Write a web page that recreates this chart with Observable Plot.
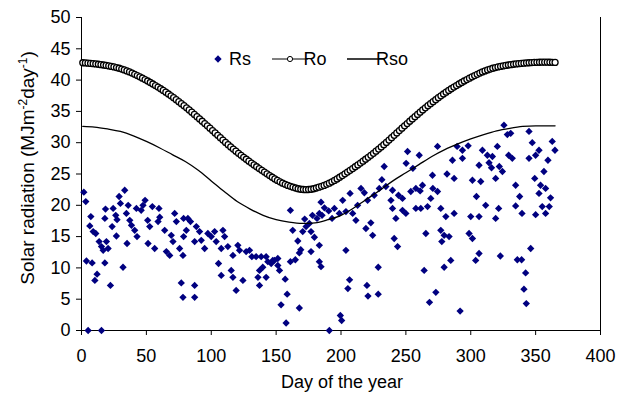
<!DOCTYPE html>
<html><head><meta charset="utf-8">
<script src="https://cdn.jsdelivr.net/npm/d3@7"></script>
<script src="https://cdn.jsdelivr.net/npm/@observablehq/plot@0.6"></script>
<style>html,body{margin:0;padding:0;background:#fff} svg{display:block}</style>
</head><body><div id="chart"></div>
<script>
const xTicks = [0, 50, 100, 150, 200, 250, 300, 350, 400];
const yTicks = [0, 5, 10, 15, 20, 25, 30, 35, 40, 45, 50];

// Ro: extraterrestrial radiation, read every second day (days 1,3,...,365)
const roDays = d3.range(1, 366, 2);
const roValues = [
  42.77, 42.74, 42.71, 42.67, 42.63, 42.58, 42.53, 42.47, 42.41, 42.34,
  42.27, 42.19, 42.10, 42.00, 41.89, 41.76, 41.62, 41.47, 41.30, 41.12,
  40.93, 40.73, 40.52, 40.31, 40.09, 39.86, 39.62, 39.38, 39.13, 38.88,
  38.62, 38.35, 38.07, 37.78, 37.49, 37.19, 36.88, 36.56, 36.24, 35.91,
  35.57, 35.23, 34.88, 34.52, 34.16, 33.80, 33.43, 33.06, 32.69, 32.32,
  31.94, 31.56, 31.18, 30.80, 30.42, 30.05, 29.69, 29.33, 28.98, 28.64,
  28.31, 27.99, 27.67, 27.36, 27.05, 26.75, 26.45, 26.16, 25.87, 25.58,
  25.30, 25.02, 24.75, 24.48, 24.22, 23.98, 23.75, 23.54, 23.35, 23.18,
  23.03, 22.90, 22.76, 22.64, 22.56, 22.52, 22.50,
  22.52, 22.56, 22.64, 22.76, 22.90, 23.03, 23.18, 23.35, 23.54, 23.75,
  23.98, 24.22, 24.48, 24.75, 25.02, 25.30, 25.58, 25.87, 26.16, 26.45,
  26.75, 27.05, 27.36, 27.67, 27.99, 28.31, 28.64, 28.98, 29.33, 29.69,
  30.05, 30.42, 30.80, 31.18, 31.56, 31.94, 32.32, 32.69, 33.06, 33.43,
  33.80, 34.16, 34.52, 34.88, 35.23, 35.57, 35.91, 36.24, 36.56, 36.88,
  37.19, 37.49, 37.78, 38.07, 38.35, 38.62, 38.88, 39.13, 39.38, 39.62,
  39.86, 40.09, 40.31, 40.52, 40.73, 40.93, 41.12, 41.30, 41.47, 41.62,
  41.76, 41.89, 42.00, 42.10, 42.19, 42.27, 42.34, 42.41, 42.47, 42.53,
  42.58, 42.63, 42.67, 42.71, 42.74, 42.77, 42.80, 42.82, 42.84, 42.85,
  42.86, 42.86, 42.86, 42.85, 42.84, 42.83
];

// Rso: clear-sky radiation
const rsoDays = [1, 10, 20, 30, 40, 50, 60, 70, 80, 90, 100, 110, 120, 130, 140, 150, 160, 170, 180, 190, 200, 210, 220, 230, 240, 250, 260, 270, 280, 290, 300, 310, 320, 330, 340, 350, 365];
const rsoValues = [32.6, 32.5, 32.2, 31.8, 31.1, 30.2, 29.2, 28.1, 27.0, 25.6, 23.9, 22.2, 20.6, 19.4, 18.4, 17.7, 17.3, 17.1, 17.2, 17.7, 18.4, 19.6, 21.0, 22.4, 23.9, 25.2, 26.5, 27.8, 28.9, 29.8, 30.6, 31.3, 31.9, 32.3, 32.6, 32.7, 32.7];

// Rs: measured daily solar radiation [day, value]
const rs = [
  [1.8,22.1],[3.3,20.6],[3.8,11.1],[5.1,0],[6.4,16.7],[7.2,18.2],[8.2,10.8],[9,15.8],[10.3,8.0],[11,15.5],
  [12,9.0],[13.6,14.2],[15.4,13.4],[15.4,0],[16.7,12.8],[18,17.9],[18,10.8],[18.5,19.4],[19.2,14.2],[20.5,13.1],
  [22.3,7.2],[23.6,16.6],[24.4,19.5],[26.4,18.4],[26.9,15.1],[27.4,17.7],[29,21.4],[30,20.3],[32,10.1],[33.3,22.4],
  [34.6,18.7],[35.1,13.9],[36,20.0],[37.2,17.6],[38.5,16.8],[41,16.0],[42.3,19.5],[42.8,15.0],[46,19.2],[47.4,20.0],
  [49,20.8],[51,17.6],[51.3,13.9],[52.6,16.6],[54.6,19.8],[56.4,13.1],[59,17.4],[59.7,19.5],[60.3,18.1],[64.1,16.0],
  [65.4,12.6],[68,12.0],[69.2,15.2],[70.5,14.2],[71.8,18.7],[73.1,17.4],[75.6,13.1],[76.9,7.6],[78.2,12.0],[78.2,5.3],
  [78.7,17.9],[78.7,15.0],
  [80.8,16.0],[82,17.9],[84,17.4],[87.2,14.2],[87.2,7.2],[87.2,5.3],[88.5,16.6],[91,15.8],[92.3,14.4],[94.9,13.1],
  [97.4,15.5],[100,15.0],[102.6,15.8],[103.8,14.2],[105.6,10.7],[107.7,13.1],[107.7,8.8],[109,16.0],[110.3,15.0],[112.8,13.4],
  [115.4,9.6],[116.7,12.0],[116.7,8.5],[119.2,6.4],[120.5,13.6],[121.8,12.8],[124.4,8.0],[126.9,12.6],[129.5,12.8],[131.3,11.8],
  [134.6,11.8],[136,8.5],[137.2,9.6],[137.2,7.2],[138.5,11.8],[139.7,10.1],[142.3,11.8],[142.3,8.5],[143.6,11.0],[146.2,10.7],
  [147.4,11.2],[148.7,11.2],[151.3,11.5],[151.3,10.4],[152.6,9.6],[153.8,4.1],[157,8.2],[157.7,1.2],[158.5,5.8],
  [161,19.2],[161,11.0],[162.8,16.0],[164.8,11.3],[166.7,14.3],[167.9,12.4],[169,12.9],[167.9,3.6],[170.5,15.8],[172,17.8],
  [173.1,16.6],[175.6,17.1],[176.9,15.8],[176.9,12.6],[178,18.4],[179.5,14.9],[181.5,17.9],[183.3,18.7],[183.3,13.6],[183.3,11.0],
  [184.6,10.2],[184.6,20.5],[185.4,18.4],[187.2,19.6],[190.5,19.1],[191,0],[193.1,17.9],[194.9,19.5],[198.7,18.7],[199.5,2.4],
  [200.5,1.6],[201.3,20.8],[203.8,19.0],[203.8,12.8],[206.6,8.1],[205.3,6.7],[207,21.9],[209,18.7],[211.5,17.6],[212.8,20.0],
  [215.4,22.7],[218,22.0],[219.2,16.3],[220,7.2],[220.8,5.5],[220.5,20.8],[223,17.2],[224.4,15.2],[225.6,21.6],[228.7,10.1],
  [228.7,5.8],[229.5,22.7],[231.5,24.1],[233.3,26.2],[234.6,23.0],[238.5,20.8],[239.7,19.5],[241,14.7],[239.7,22.4],[242.3,17.9],
  [243.6,13.4],[244.3,21.6],[247.4,21.1],[247.4,19.2],[250,18.7],[250.2,26.7],[251.3,28.6],[253.8,22.2],[255.4,25.9],[257.7,22.7],
  [257.7,19.5],[260.3,28.0],[261,22.3],[262.8,23.2],[261.5,19.5],[264.1,9.6],[265.4,15.5],[266.7,19.8],[268.2,4.5],[269.2,21.1],
  [270.5,24.8],[270.8,22.7],[273.1,6.1],[274.4,29.4],[274.4,22.2],[276.9,19.5],[276.9,16.0],[277.7,14.2],[279.5,15.2],[279.5,10.1],
  [280.8,18.2],[281.7,25.0],[283.3,15.0],[284.6,11.2],[285.9,27.2],[287.2,24.3],[287.2,18.7],[289.5,29.4],[291.8,3.1],[293.6,28.8],
  [293.6,27.5],[298,29.5],[298.7,15.5],[300,18.2],[301.3,24.0],[301.3,14.7],[303.8,11.2],[304.4,21.4],[306.4,26.4],[306.4,18.2],
  [306.4,12.3],[307.7,23.8],[309,28.8],[311.5,20.0],[312.8,28.0],[314.1,26.8],[316,26.0],[316.7,27.8],[319.2,24.3],[319.2,17.9],
  [320.5,29.4],[321.5,19.5],[322.8,11.9],[322,26.2],[324.4,25.4],[325.6,32.8],[328.2,31.3],[330.8,31.5],[329.2,28.0],[332,27.5],
  [334.6,23.2],[334.6,19.9],[335.9,11.3],[339.2,11.3],[337.7,21.4],[339.5,18.7],[341,6.6],[342.3,9.2],[342.8,4.3],[344.9,31.8],
  [344.9,27.5],[346.2,13.1],[347.4,30.0],[349.3,24.3],[350,28.0],[352.6,28.8],[350,18.5],[352.6,21.9],[353.8,23.2],[355.1,19.8],
  [356.4,25.4],[357.7,22.7],[357.7,18.7],[359.5,27.2],[360.5,19.8],[361.5,21.2],[362.8,30.2],[364.9,28.8]
];

const roData = roDays.map((d, i) => ({day: d, value: roValues[i]}));
const rsoData = rsoDays.map((d, i) => ({day: d, value: rsoValues[i]}));
const rsData = rs.map(([d, v]) => ({day: d, value: v}));

const FONT = "Arial, 'Liberation Sans', sans-serif";
const NAVY = "#000080";

const chart = Plot.plot({
  width: 629, height: 408,
  marginLeft: 81, marginRight: 29, marginTop: 17, marginBottom: 78,
  style: {fontFamily: FONT, fontSize: "18px", color: "#000", background: "#fff", overflow: "visible"},
  x: {domain: [0, 400], label: null},
  y: {domain: [0, 50], label: null},
  marks: [
    Plot.axisX({ticks: xTicks, tickSize: 5, tickPadding: 14, label: null, fontSize: 18, stroke: "#000"}),
    Plot.axisY({ticks: yTicks, tickSize: 5, tickPadding: 6, label: null, fontSize: 18, stroke: "#000"}),
    Plot.ruleX([0], {stroke: "#000"}),
    Plot.ruleY([0], {stroke: "#000"}),
    Plot.ruleX([400], {stroke: "#000"}),
    Plot.dot(rsData, {x: "day", y: "value", symbol: "diamond2", r: 3.3, fill: NAVY, stroke: "none"}),
    Plot.line(roData, {x: "day", y: "value", stroke: "#000", strokeWidth: 1}),
    Plot.dot(roData, {x: "day", y: "value", r: 3, fill: "#fff", stroke: "#000", strokeWidth: 1.3}),
    Plot.line(rsoData, {x: "day", y: "value", stroke: "#000", strokeWidth: 1.3, curve: "monotone-x"})
  ]
});

document.getElementById("chart").appendChild(chart);
const svg = d3.select(chart);

// x axis title
svg.append("text").attr("x", 342).attr("y", 388).attr("text-anchor", "middle")
  .attr("font-family", FONT).attr("font-size", 18).attr("fill", "#000").text("Day of the year");

// y axis title with superscripts
const yl = svg.append("text").attr("transform", "translate(34,168) rotate(-90)")
  .attr("text-anchor", "middle").attr("font-family", FONT).attr("font-size", 19).attr("fill", "#000");
yl.append("tspan").text("Solar radiation (MJm");
yl.append("tspan").attr("dy", -7).attr("font-size", 12).text("-2");
yl.append("tspan").attr("dy", 7).text("day");
yl.append("tspan").attr("dy", -7).attr("font-size", 12).text("-1");
yl.append("tspan").attr("dy", 7).text(")");

// legend
const ly = 59;
const lg = svg.append("g").attr("font-family", FONT).attr("font-size", 18).attr("fill", "#000");
lg.append("path").attr("d", d3.symbol(d3.symbolDiamond2, Math.PI * 3.3 * 3.3)()).attr("transform", `translate(218,${ly})`).attr("fill", NAVY);
lg.append("text").attr("x", 240).attr("y", ly).attr("dy", "0.35em").text("Rs");
lg.append("line").attr("x1", 272).attr("x2", 308).attr("y1", ly).attr("y2", ly).attr("stroke", "#000");
lg.append("circle").attr("cx", 290).attr("cy", ly).attr("r", 2.6).attr("fill", "#fff").attr("stroke", "#000");
lg.append("text").attr("x", 315).attr("y", ly).attr("dy", "0.35em").text("Ro");
lg.append("line").attr("x1", 347).attr("x2", 385).attr("y1", ly).attr("y2", ly).attr("stroke", "#000").attr("stroke-width", 1.3);
lg.append("text").attr("x", 392).attr("y", ly).attr("dy", "0.35em").text("Rso");
</script>
</body></html>
